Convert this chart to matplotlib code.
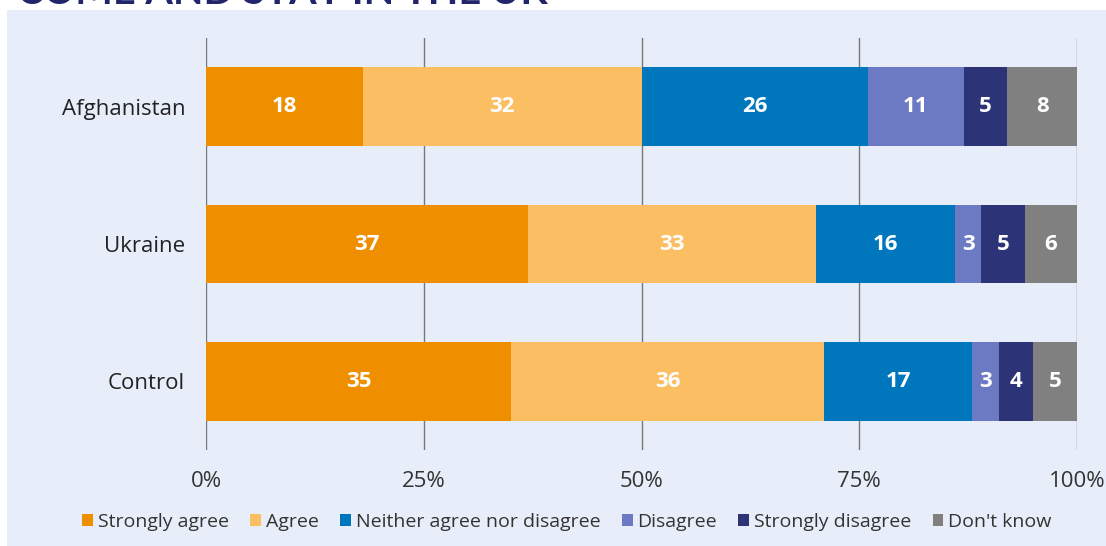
import matplotlib
matplotlib.use("Agg")
import matplotlib.pyplot as plt
from matplotlib.patches import Rectangle, Patch

categories = ["Afghanistan", "Ukraine", "Control"]
series_names = ["Strongly agree", "Agree", "Neither agree nor disagree",
                "Disagree", "Strongly disagree", "Don't know"]
strongly_agree = [18, 37, 35]
agree = [32, 33, 36]
neither = [26, 16, 17]
disagree = [11, 3, 3]
strongly_disagree = [5, 5, 4]
dont_know = [8, 6, 5]
series_values = [strongly_agree, agree, neither, disagree, strongly_disagree, dont_know]
colors = ["#ef8f00", "#fbbe62", "#0077bc", "#6c7ac4", "#2c3376", "#808080"]
xticks = [0, 25, 50, 75, 100]
xtick_labels = ["0%", "25%", "50%", "75%", "100%"]
title = "COME AND STAY IN THE UK"

plt.rcParams['font.family'] = ['Open Sans', 'DejaVu Sans']

W, H = 1106, 546
fig = plt.figure(figsize=(W / 100, H / 100), dpi=100, facecolor="white")
bg = "#e8eef9"
fig.patches.append(Rectangle((7 / W, 0), 1 - 7 / W, (H - 10) / H, transform=fig.transFigure,
                             facecolor=bg, edgecolor="none", zorder=-10))
fig.text(17 / W, 1 + 7 / H, title, fontsize=28.5, fontweight="bold", color="#23256b",
         ha="left", va="center", zorder=-5, family=["Lato", "DejaVu Sans"])

ax = fig.add_axes([206 / W, (H - 450) / H, 871 / W, 412 / H])
ax.set_facecolor("none")
ypos = list(range(len(categories)))
left = [0] * len(categories)
for name, vals, c in zip(series_names, series_values, colors):
    ax.barh(ypos, vals, left=left, height=0.575, color=c, label=name, zorder=2)
    for y, v, l in zip(ypos, vals, left):
        ax.text(l + v / 2, y, str(v), ha="center", va="center", color="white",
                fontsize=16, fontweight="bold", zorder=3)
    left = [a + b for a, b in zip(left, vals)]

ax.set_xlim(0, 100)
ax.set_ylim(2.5, -0.5)
ax.set_xticks(xticks)
ax.set_xticklabels(xtick_labels, fontsize=16, color="#333333")
ax.set_yticks(ypos)
ax.set_yticklabels(categories, fontsize=16, color="#222222")
ax.tick_params(axis="both", length=0)
ax.tick_params(axis="x", pad=15)
ax.tick_params(axis="y", pad=15)
for x in xticks:
    ax.axvline(x, color="#777777", lw=1, zorder=1)
for s in ax.spines.values():
    s.set_visible(False)

handles = [Patch(facecolor=c, edgecolor="none") for c in colors]
fig.legend(handles, series_names, loc="center", bbox_to_anchor=(567 / W, 1 - 522 / H),
           ncol=6, frameon=False, fontsize=14, handlelength=0.55, handleheight=0.55,
           handletextpad=0.25, columnspacing=1.1, labelcolor="#333333")

fig.savefig("out.png", dpi=100, facecolor="white")
